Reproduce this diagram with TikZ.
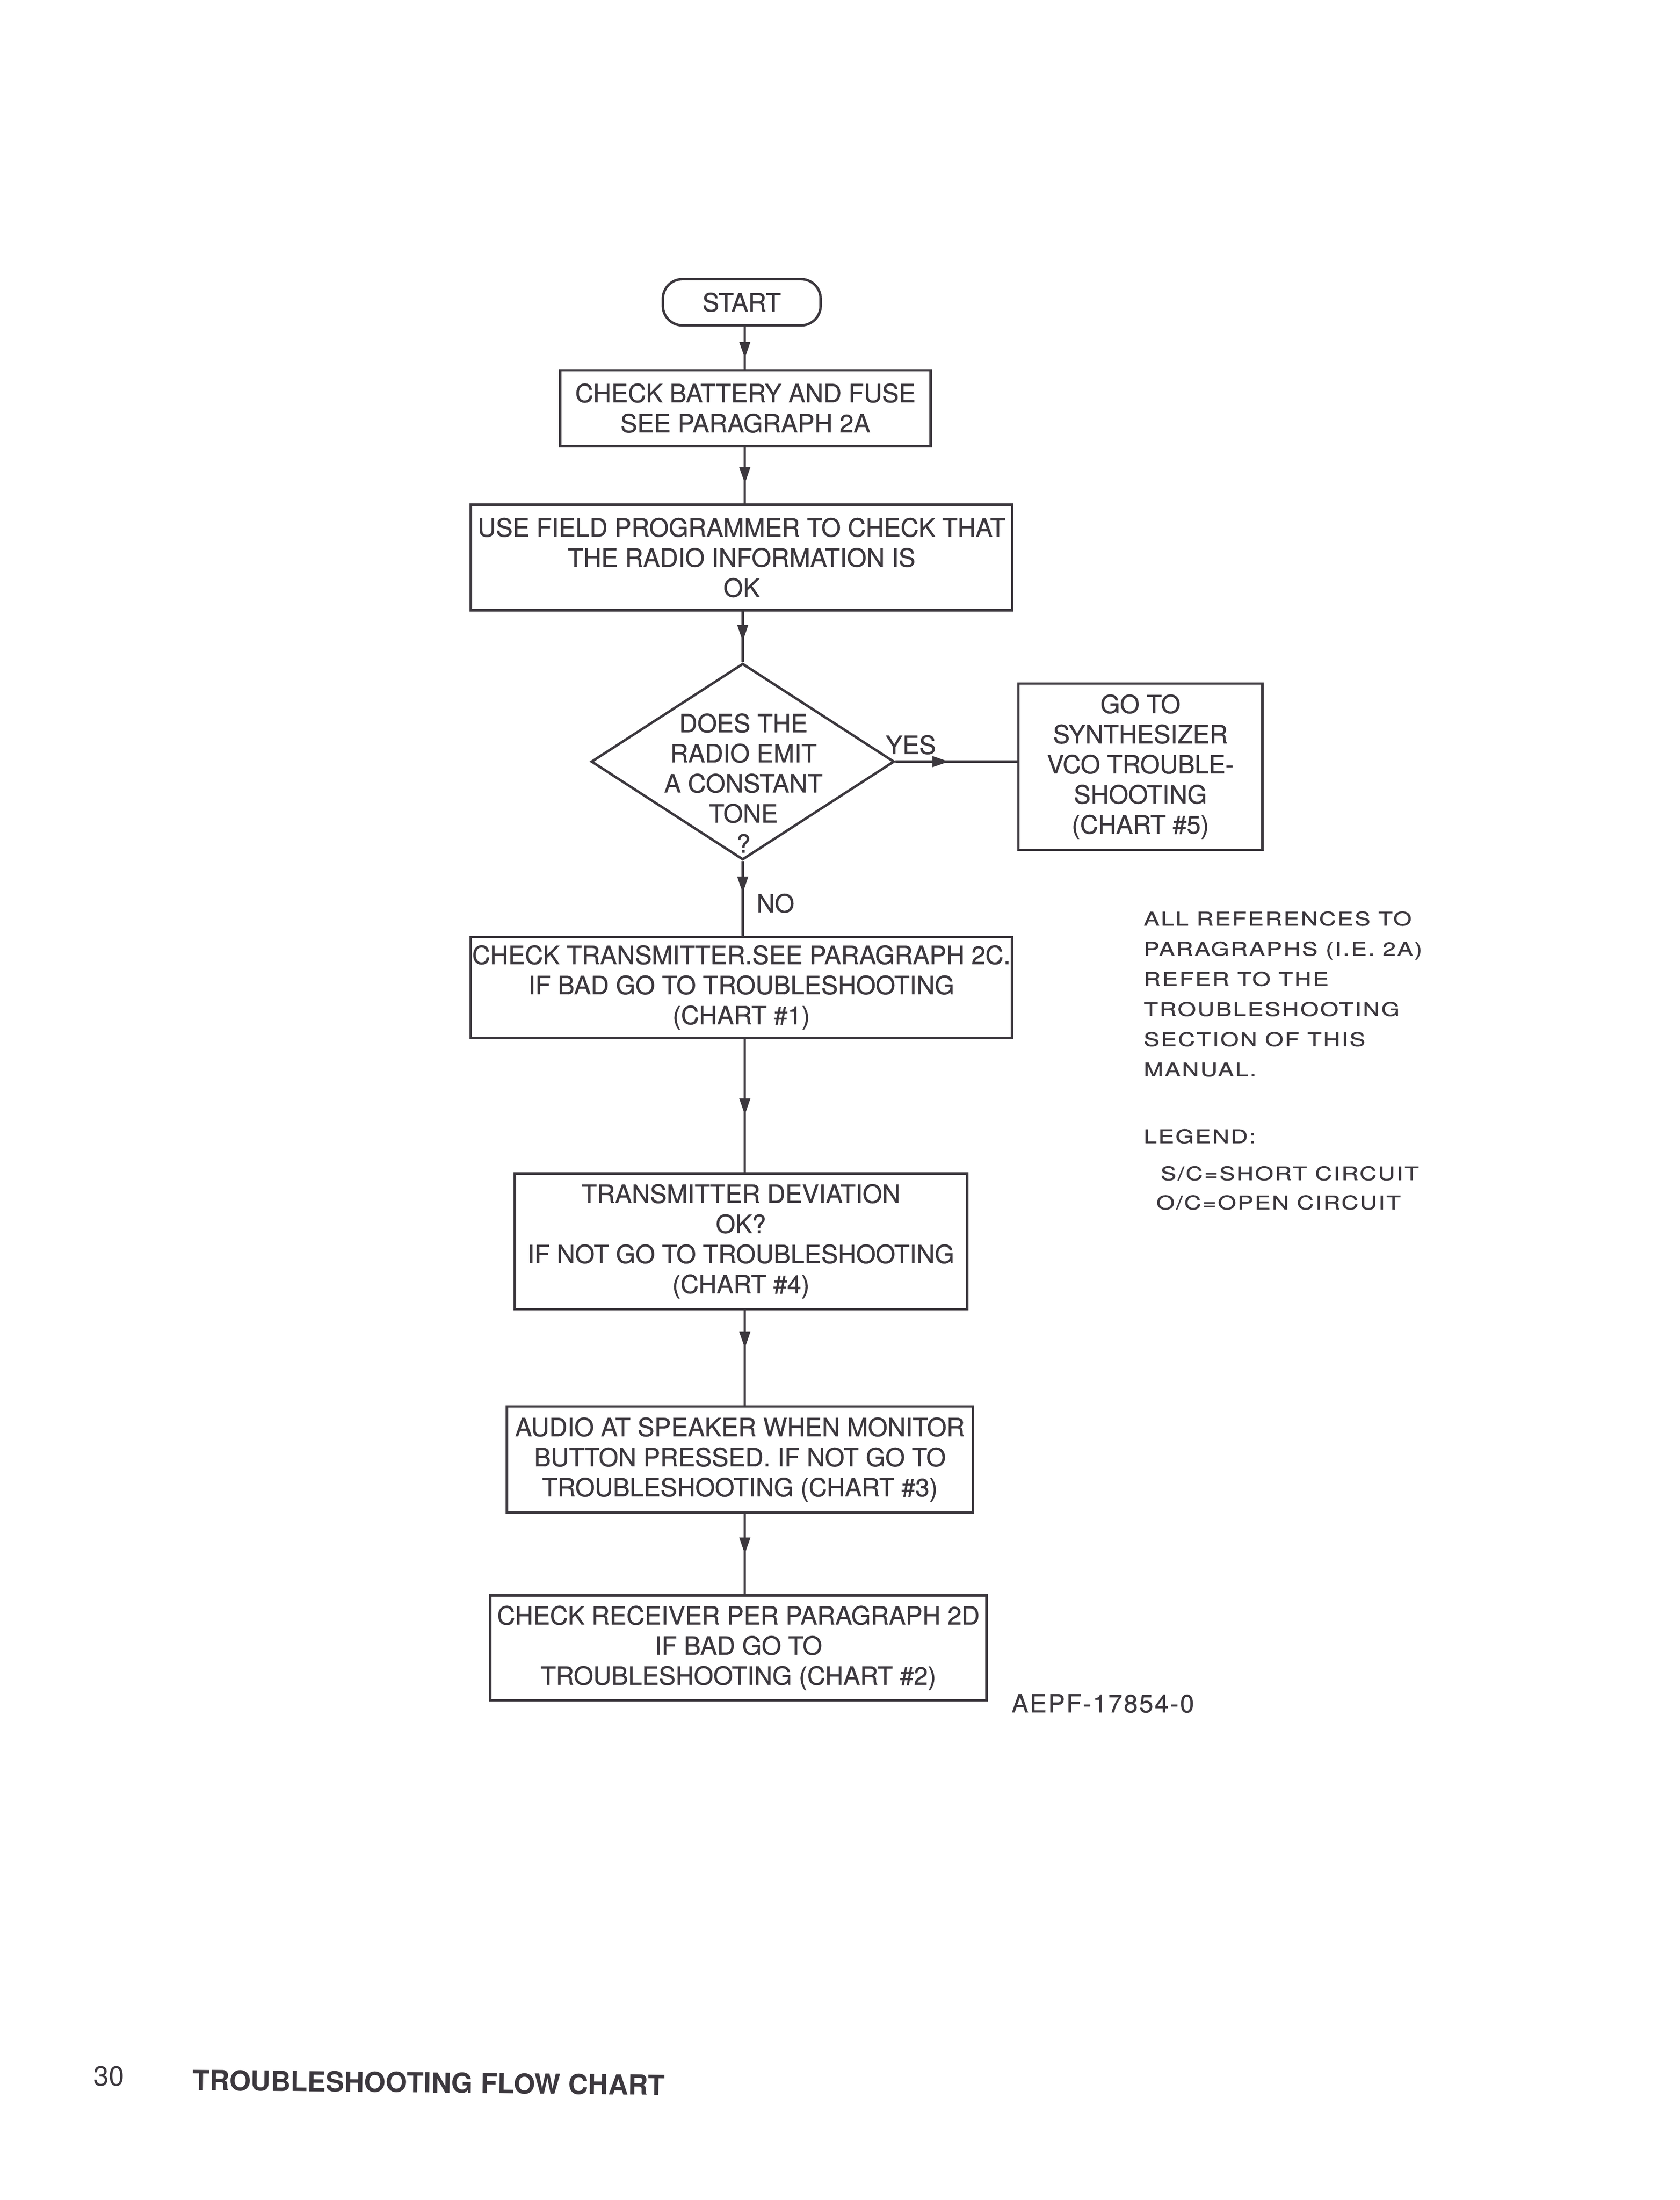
\documentclass[tikz,border=0pt]{standalone}
\usepackage{fontspec}
\setmainfont{TeX Gyre Heros}
\newfontfamily\boxfamily{TeX Gyre Heros}[FakeBold=0.8]
\newfontfamily\notefont{TeX Gyre Heros}[FakeStretch=1.25,LetterSpace=8,FakeBold=1.2]
\usetikzlibrary{arrows.meta,shapes.geometric,decorations.markings,positioning}
\definecolor{ink}{RGB}{60,56,62}
\newcommand{\boxfont}{\boxfamily\fontsize{9.1}{10.9}\selectfont}

\begin{document}
\begin{tikzpicture}[x=0.01786cm, y=-0.01786cm,
    flowbox/.style={draw=ink, line width=0.9pt, rectangle, align=center, text=ink, font=\boxfont, inner xsep=0.5pt, inner ysep=0pt},
    decision/.style={draw=ink, line width=0.9pt, diamond, inner sep=0pt},
    terminal/.style={draw=ink, line width=0.9pt, rectangle, align=center, text=ink, font=\boxfont, inner sep=0pt},
    lbl/.style={text=ink, font=\boxfont, inner sep=0pt, align=center},
    note/.style={text=ink, font=\notefont\fontsize{6.8}{10.9}\selectfont, inner sep=0pt},
    flow/.style={color=ink, line width=0.85pt, postaction={decorate},
      decoration={markings, mark=at position #1 with {\arrow{Triangle[length=6pt,width=3.8pt]}}}},
    flow/.default=0.5]
    % Page size of the scanned sheet
    \def\px{0.01786cm}
    \fill[white] (0,0) rectangle (1197.6,1568.5);
    \useasboundingbox (0,0) rectangle (1197.6,1568.5);
    \coordinate (axis) at (531,0);

    % Start and the main column of steps
    \node[terminal, rounded corners=14*\px, minimum width=112.5*\px, minimum height=33*\px] (start) at (528.8,215.5) {START};
    \node[flowbox, minimum width=264*\px, minimum height=54*\px] (battery) at (531.4,291) {CHECK BATTERY AND FUSE\\SEE PARAGRAPH 2A};
    \node[flowbox, minimum width=386*\px, minimum height=75.4*\px] (program) at (528.7,397.5) {USE FIELD PROGRAMMER TO CHECK THAT\\THE RADIO INFORMATION IS\\OK};

    % Decision
    \node[decision, minimum width=216*\px, minimum height=140*\px] (tone) at (529.5,543) {};
    \node[lbl] (tonetext) at (530,558.3) {DOES THE\\RADIO EMIT\\A CONSTANT\\TONE\\?};
    \node[flowbox, minimum width=174*\px, minimum height=118.6*\px] (vco) at (813,546.6) {GO TO\\SYNTHESIZER\\VCO TROUBLE-\\SHOOTING\\(CHART \#5)};
    \node[lbl, anchor=west] (yes) at (631,531) {YES};
    \node[lbl, anchor=west] (no) at (539,644) {NO};

    \node[flowbox, minimum width=386*\px, minimum height=72*\px] (transmitter) at (528.5,704) {CHECK TRANSMITTER.SEE PARAGRAPH 2C.\\IF BAD GO TO TROUBLESHOOTING\\(CHART \#1)};
    \node[flowbox, minimum width=322.5*\px, minimum height=96.8*\px] (deviation) at (528.2,885) {TRANSMITTER DEVIATION\\OK?\\IF NOT GO TO TROUBLESHOOTING\\(CHART \#4)};
    \node[flowbox, minimum width=332.4*\px, minimum height=75.8*\px] (audio) at (527.5,1040.6) {AUDIO AT SPEAKER WHEN MONITOR\\BUTTON PRESSED. IF NOT GO TO\\TROUBLESHOOTING (CHART \#3)};
    \node[flowbox, minimum width=354*\px, minimum height=74.8*\px] (receiver) at (526.4,1174.9) {CHECK RECEIVER PER PARAGRAPH 2D\\IF BAD GO TO\\TROUBLESHOOTING (CHART \#2)};
    \node[lbl, anchor=west, font=\boxfont\addfontfeatures{LetterSpace=6}] (drawno) at (720.8,1214.5) {AEPF-17854-0};

    % Connectors, arrow part way down
    \draw[flow=0.75] (start.south -| axis) -- (battery.north -| axis);
    \draw[flow=0.65] (battery.south -| axis) -- (program.north -| axis);
    \draw[flow=0.59] (program.south -| tone.north) -- (tone.north);
    \draw[flow=0.44] (tone.east) -- (tone.east -| vco.west);
    \draw[flow=0.43] (tone.south) -- (transmitter.north -| tone.south);
    \draw[flow=0.57] (transmitter.south -| axis) -- (deviation.north -| axis);
    \draw[flow=0.40] (deviation.south -| axis) -- (audio.north -| axis);
    \draw[flow=0.5] (audio.south -| axis) -- (receiver.north -| axis);

    % Notes on the right
    \foreach \txt [count=\i from 0] in {ALL REFERENCES TO, PARAGRAPHS (I.E. 2A), REFER TO THE, TROUBLESHOOTING, SECTION OF THIS, MANUAL.} {
      \pgfmathsetmacro{\ny}{659.8+\i*21.5}
      \node[note, anchor=base west] (note\i) at (815,\ny) {\txt};
    }
    \node[note, anchor=base west] (legend) at (815,815) {LEGEND:};
    \node[note, anchor=base west] (shortc) at (827,841.4) {S/C=SHORT CIRCUIT};
    \node[note, anchor=base west] (openc) at (824,862.2) {O/C=OPEN CIRCUIT};

    % Page footer
    \node[anchor=base west, text=ink, inner sep=0pt, font=\fontsize{10}{12}\selectfont] (pageno) at (66.3,1487) {30};
    \node[anchor=west, text=ink, inner sep=0pt, rotate=-0.6, font=\bfseries\fontsize{10}{12}\selectfont] (title) at (137,1483) {TROUBLESHOOTING FLOW CHART};
\end{tikzpicture}
\end{document}
